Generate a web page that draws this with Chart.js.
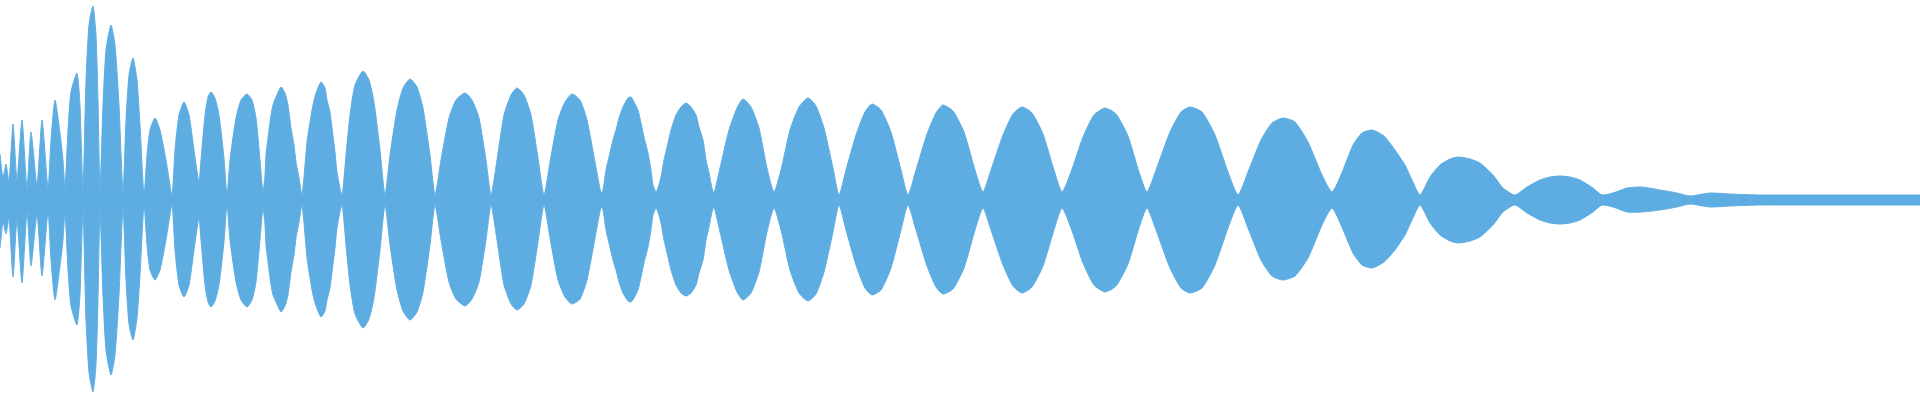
<!DOCTYPE html>
<html>
<head>
<meta charset="utf-8">
<script src="https://cdn.jsdelivr.net/npm/chart.js@4/dist/chart.umd.min.js"></script>
<style>
  html, body { margin: 0; padding: 0; background: #ffffff; }
  #wrap { width: 1920px; height: 400px; position: relative; }
</style>
</head>
<body>
<div id="wrap"><canvas id="c"></canvas></div>
<script>
// time positions (frame index) of the envelope samples
const times = [
  0,3,6,9,13,17,22,27,31,37,42,48,51,55,60,63,65,68,71,77,80,83,86,89,93,96,98,100,103,106,111,115,119,123,126,129,133,137,140,144,147,150,155,160,166,172,175,179,184,189,194,199,
  201,205,208,211,215,219,224,227,
  230,236,241,247,252,256,260,263,
  265,266,268,271,273,276,281,285,288,291,294,296,299,302,
  305,307,310,313,316,321,325,327,330,332,335,337,342,
  346,350,355,363,369,374,380,385,
  390,397,403,410,417,423,430,435,
  441,449,456,465,472,479,486,491,
  497,504,511,517,524,531,538,544,
  550,558,565,572,580,587,595,601,
  603,606,609,613,616,619,623,628,631,634,638,641,644,648,651,653,656,
  658,661,664,668,671,676,681,686,691,696,699,703,706,709,712,714,
  720,729,737,743,751,759,767,774,
  781,790,799,808,816,824,833,839,
  846,856,865,872,881,891,901,908,
  916,927,936,943,953,964,975,983,
  991,1003,1013,1022,1032,1043,1054,1062,
  1071,1083,1094,1105,1116,1128,1139,1147,
  1156,1170,1181,1190,1202,1215,1228,1238,
  1248,1261,1272,1283,1295,1308,1322,1332,
  1341,1353,1362,1372,1384,1395,1405,1412,1420,
  1430,1440,1450,1458,1470,1480,1493,1503,1515,
  1527,1540,1550,1560,1570,1580,1593,1602,
  1613,1627,1642,1660,1677,1690,
  1710,1730,1760,1800,1840,1880,1920
];
// positive peak amplitude at each time
const upper = [
  46,22,36,18,76,20,80,12,68,15,80,12,60,100,67,40,12,70,108,127,95,10,120,175,194,165,100,10,95,150,175,155,95,8,80,125,142,120,75,5,45,70,82,70,40,5,50,85,98,85,50,18,
  40,85,103,108,102,85,42,5,
  40,82,100,106,100,82,40,8,
  25,45,62,85,95,103,113,107,95,72,55,38,22,5,
  35,58,78,95,107,118,112,100,88,72,48,28,5,
  45,85,115,129,120,98,50,5,
  45,90,112,121,113,92,45,5,
  40,82,100,107,100,82,40,5,
  40,85,105,112,105,85,42,5,
  38,80,98,106,100,80,38,7,
  10,30,43,60,70,82,93,102,103,98,90,77,63,47,30,15,8,
  12,23,40,57,70,85,93,97,93,85,73,60,40,27,12,7,
  32,70,92,101,93,72,32,8,
  30,70,93,102,94,72,32,5,
  30,65,88,96,90,68,30,5,
  30,66,87,95,89,68,30,8,
  30,65,86,93,87,66,30,8,
  28,63,85,92,86,64,28,8,
  30,68,88,93,88,65,28,5,
  28,60,77,82,78,58,25,8,
  25,55,67,70,64,50,35,20,5,
  23,35,41,43,41,37,25,12,5,
  13,20,23,24,23,20,12,5,
  7,12,13,10,7,4,
  7,6,5,5,5,5,5
];
// negative peak amplitude at each time
const lower = [
  -48,-22,-34,-18,-77,-20,-83,-12,-66,-15,-76,-12,-60,-100,-66,-40,-12,-70,-106,-125,-95,-10,-120,-172,-192,-165,-100,-10,-95,-150,-175,-155,-95,-8,-80,-124,-140,-118,-75,-5,-45,-70,-80,-70,-40,-5,-50,-85,-97,-85,-50,-18,
  -40,-85,-102,-107,-101,-85,-42,-5,
  -40,-82,-100,-107,-100,-82,-40,-8,
  -25,-45,-62,-85,-95,-102,-112,-106,-95,-72,-55,-38,-22,-5,
  -35,-58,-78,-95,-106,-117,-111,-100,-88,-72,-48,-28,-5,
  -45,-85,-114,-128,-119,-98,-50,-5,
  -45,-90,-111,-120,-112,-92,-45,-5,
  -40,-82,-99,-106,-99,-82,-40,-5,
  -40,-85,-104,-110,-104,-85,-42,-5,
  -38,-80,-97,-104,-99,-80,-38,-7,
  -10,-30,-43,-60,-70,-82,-93,-101,-102,-98,-90,-77,-63,-47,-30,-15,-8,
  -12,-23,-40,-57,-70,-85,-93,-96,-93,-85,-73,-60,-40,-27,-12,-7,
  -32,-70,-92,-100,-93,-72,-32,-8,
  -30,-70,-93,-101,-94,-72,-32,-5,
  -30,-65,-88,-95,-90,-68,-30,-5,
  -30,-66,-87,-94,-89,-68,-30,-8,
  -30,-65,-86,-93,-87,-66,-30,-8,
  -28,-63,-85,-92,-86,-64,-28,-8,
  -30,-68,-88,-93,-88,-65,-28,-5,
  -28,-60,-76,-80,-76,-58,-25,-8,
  -25,-53,-65,-68,-62,-50,-35,-20,-5,
  -23,-35,-41,-43,-41,-37,-25,-12,-5,
  -13,-20,-23,-24,-23,-20,-12,-5,
  -7,-12,-12,-10,-7,-4,
  -7,-6,-5,-5,-5,-5,-5
];

const waveColor = '#5dade2';
const upperPts = times.map((t, i) => ({ x: t, y: upper[i] }));
const lowerPts = times.map((t, i) => ({ x: t, y: lower[i] }));

new Chart(document.getElementById('c'), {
  type: 'line',
  data: {
    datasets: [
      { data: upperPts, borderColor: waveColor, backgroundColor: waveColor, borderWidth: 1, pointRadius: 0, fill: 'origin', tension: 0.2 },
      { data: lowerPts, borderColor: waveColor, backgroundColor: waveColor, borderWidth: 1, pointRadius: 0, fill: 'origin', tension: 0.2 }
    ]
  },
  options: {
    responsive: true,
    maintainAspectRatio: false,
    animation: false,
    layout: { padding: 0 },
    plugins: { legend: { display: false }, tooltip: { enabled: false } },
    scales: {
      x: { type: 'linear', min: 0, max: 1920, display: false },
      y: { min: -200, max: 200, display: false }
    }
  }
});
</script>
</body>
</html>
